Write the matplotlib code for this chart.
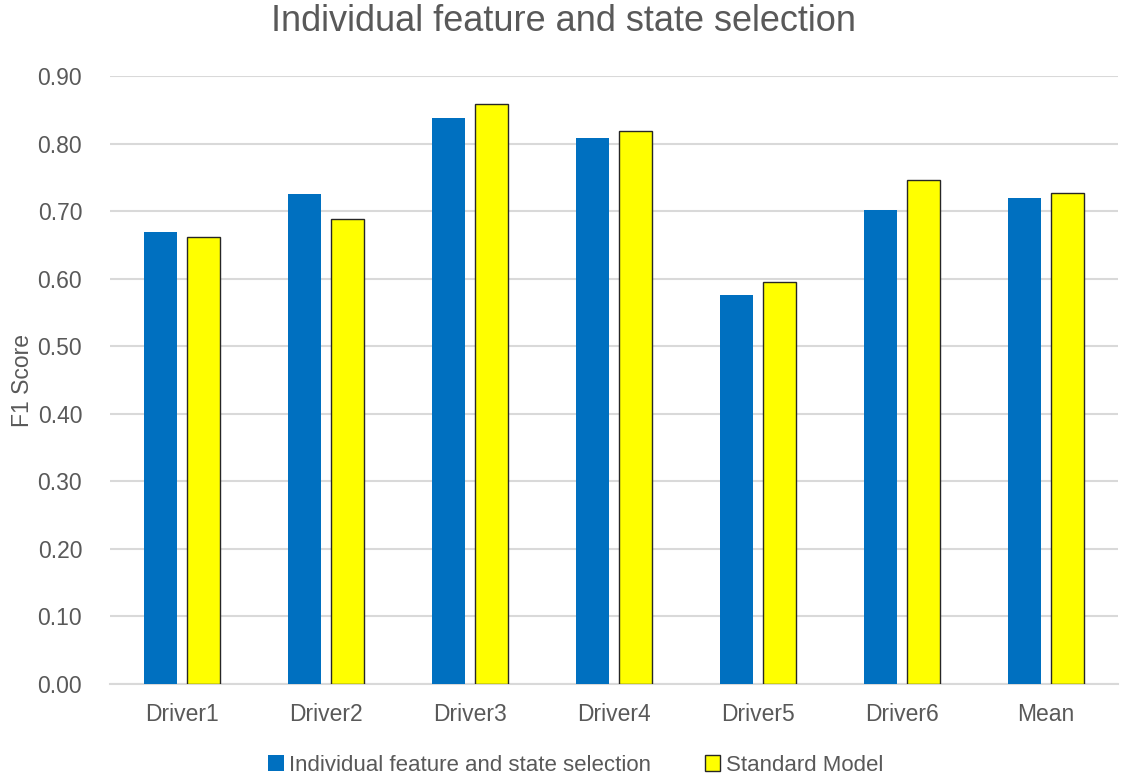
import numpy as np
import matplotlib.pyplot as plt

plt.rcParams['font.family'] = ['Liberation Sans', 'DejaVu Sans']

categories = ['Driver1', 'Driver2', 'Driver3', 'Driver4', 'Driver5', 'Driver6', 'Mean']
individual = [0.669, 0.726, 0.838, 0.808, 0.576, 0.701, 0.720]
standard = [0.662, 0.688, 0.858, 0.818, 0.595, 0.746, 0.727]
yticks = np.arange(0, 0.91, 0.1)

text_col = '#595959'
grid_col = '#D9D9D9'

fig = plt.figure(figsize=(11.27, 7.76), dpi=100)
ax = fig.add_axes([0.0976, 0.119, 0.8944, 0.783])

x = np.arange(len(categories))
w = 0.23
ax.bar(x - 0.15, individual, w, color='#0070C0', label='Individual feature and state selection', zorder=3)
ax.bar(x + 0.15, standard, w, color='#FFFF00', edgecolor='#262626', linewidth=1.0,
       label='Standard Model', zorder=3)

ax.set_xlim(-0.5, len(categories) - 0.5)
ax.set_ylim(0, 0.9)
ax.set_yticks(yticks)
ax.set_yticklabels(['%.2f' % v for v in yticks])
ax.set_xticks(x)
ax.set_xticklabels(categories)
ax.tick_params(axis='both', length=0, labelsize=16.5, colors=text_col)
ax.tick_params(axis='y', pad=20)
ax.tick_params(axis='x', pad=14)

ax.yaxis.grid(True, color=grid_col, linewidth=1.5, zorder=0)
for s in ['top', 'right', 'left']:
    ax.spines[s].set_visible(False)
ax.spines['bottom'].set_color(grid_col)
ax.spines['bottom'].set_linewidth(1.5)

fig.text(0.020, 0.51, 'F1 Score', rotation=90, fontsize=16.5, color=text_col,
         ha='center', va='center')
fig.suptitle('Individual feature and state selection', fontsize=26, color=text_col, y=0.995)

leg = ax.legend(loc='upper center', bbox_to_anchor=(0.462, -0.091), ncol=2, frameon=False,
                fontsize=16, handlelength=0.7, handleheight=0.7, handletextpad=0.25,
                columnspacing=2.4, borderpad=0.2)
for t in leg.get_texts():
    t.set_color(text_col)

fig.savefig('out.png', dpi=100)
